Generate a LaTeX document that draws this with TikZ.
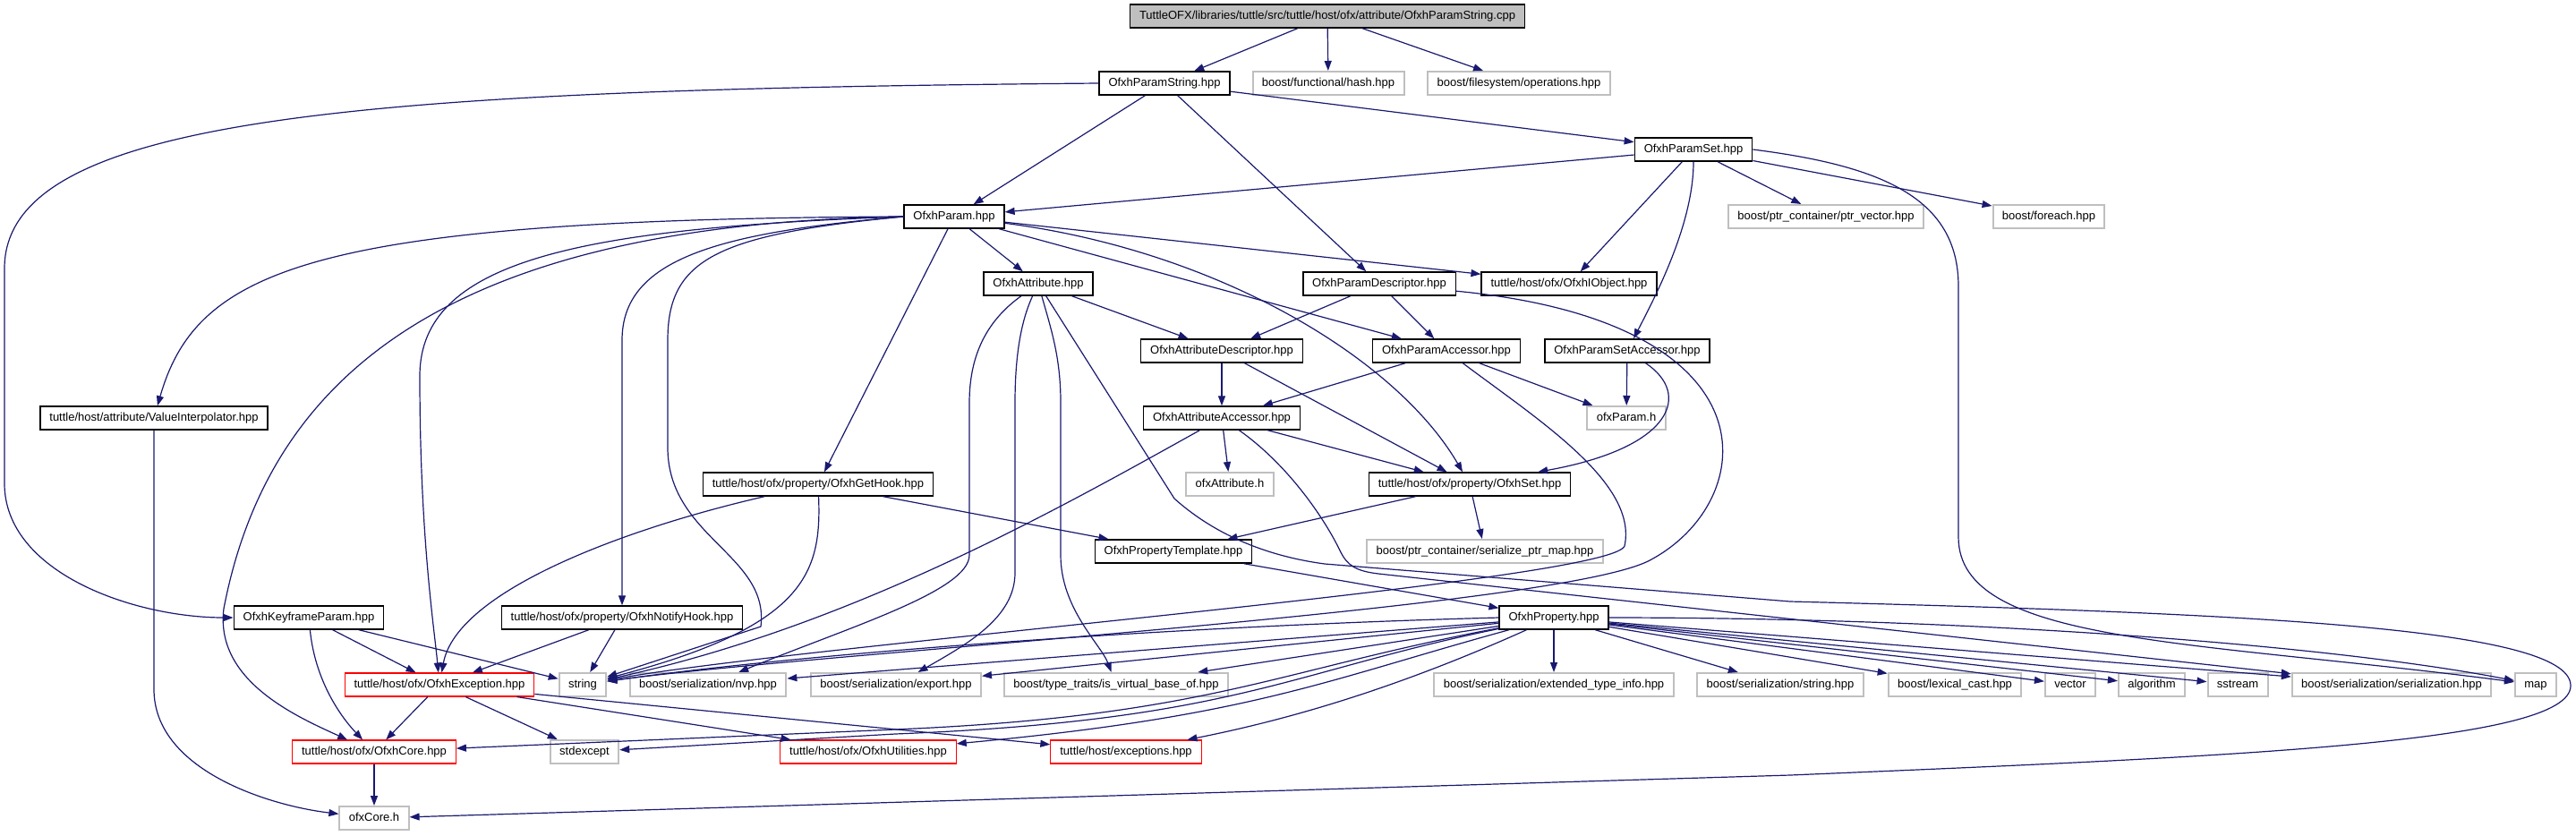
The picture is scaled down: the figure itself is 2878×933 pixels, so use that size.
\documentclass[tikz,border=0pt]{standalone}
\usepackage{fontspec}
\setmainfont{Liberation Sans}
\usetikzlibrary{arrows.meta}
\definecolor{edgeblue}{RGB}{25,25,112}
\definecolor{extgray}{RGB}{191,191,191}
\tikzset{
  header/.style={draw=black, fill=white, line width=0.7pt, inner xsep=5.2pt, inner ysep=0pt,
    minimum height=13pt, text height=4.9pt, text depth=1.5pt, font=\fontsize{6.5pt}{7pt}\selectfont},
  syshdr/.style={header, draw=extgray, line width=1pt},
  truncated/.style={header, draw=red, line width=0.55pt},
  mainfile/.style={header, fill=extgray},
  dep/.style={draw=edgeblue, line width=0.6pt, -{Triangle[length=5.5pt,width=4pt]}}
}
\begin{document}
\begin{tikzpicture}[x=0.5pt,y=-0.5pt]
    \useasboundingbox (0,0) rectangle (2878,933);
    % Files, row by row
    \node[mainfile] (cpp) at (1483,18) {TuttleOFX/libraries/tuttle/src/tuttle/host/ofx/attribute/OfxhParamString.cpp};
    \node[header] (pstr) at (1301,93) {OfxhParamString.hpp};
    \node[syshdr] (hash) at (1484,93) {boost/functional/hash.hpp};
    \node[syshdr] (fsops) at (1697,93) {boost/filesystem/operations.hpp};
    \node[header] (pset) at (1892,167) {OfxhParamSet.hpp};
    \node[header] (param) at (1066,242) {OfxhParam.hpp};
    \node[syshdr] (ptrvec) at (2040,242) {boost/ptr\_container/ptr\_vector.hpp};
    \node[syshdr] (foreach) at (2289,242) {boost/foreach.hpp};
    \node[header] (attr) at (1160,317) {OfxhAttribute.hpp};
    \node[header] (pdesc) at (1541,317) {OfxhParamDescriptor.hpp};
    \node[header] (iobj) at (1753,317) {tuttle/host/ofx/OfxhIObject.hpp};
    \node[header] (adesc) at (1365,392) {OfxhAttributeDescriptor.hpp};
    \node[header] (pacc) at (1616,392) {OfxhParamAccessor.hpp};
    \node[header] (psacc) at (1818,392) {OfxhParamSetAccessor.hpp};
    \node[header] (interp) at (172,467) {tuttle/host/attribute/ValueInterpolator.hpp};
    \node[header] (aacc) at (1365,467) {OfxhAttributeAccessor.hpp};
    \node[syshdr] (ofxparam) at (1817,467) {ofxParam.h};
    \node[header] (gethook) at (914,541) {tuttle/host/ofx/property/OfxhGetHook.hpp};
    \node[syshdr] (ofxattr) at (1374,541) {ofxAttribute.h};
    \node[header] (propset) at (1642,541) {tuttle/host/ofx/property/OfxhSet.hpp};
    \node[header] (ptmpl) at (1311,616) {OfxhPropertyTemplate.hpp};
    \node[syshdr] (ptrmap) at (1659,616) {boost/ptr\_container/serialize\_ptr\_map.hpp};
    \node[header] (kparam) at (345,690) {OfxhKeyframeParam.hpp};
    \node[header] (notify) at (695,690) {tuttle/host/ofx/property/OfxhNotifyHook.hpp};
    \node[header] (prop) at (1736,690) {OfxhProperty.hpp};
    \node[truncated] (except) at (491,765) {tuttle/host/ofx/OfxhException.hpp};
    \node[syshdr] (string) at (651,765) {string};
    \node[syshdr] (nvp) at (791,765) {boost/serialization/nvp.hpp};
    \node[syshdr] (export) at (1001,765) {boost/serialization/export.hpp};
    \node[syshdr] (isvb) at (1247,765) {boost/type\_traits/is\_virtual\_base\_of.hpp};
    \node[syshdr] (exttype) at (1736,765) {boost/serialization/extended\_type\_info.hpp};
    \node[syshdr] (serstr) at (1989,765) {boost/serialization/string.hpp};
    \node[syshdr] (lexcast) at (2184,765) {boost/lexical\_cast.hpp};
    \node[syshdr] (vector) at (2313,765) {vector};
    \node[syshdr] (algorithm) at (2404,765) {algorithm};
    \node[syshdr] (sstream) at (2500,765) {sstream};
    \node[syshdr] (serial) at (2672,765) {boost/serialization/serialization.hpp};
    \node[syshdr] (map) at (2833,765) {map};
    \node[truncated] (core) at (418,840) {tuttle/host/ofx/OfxhCore.hpp};
    \node[syshdr] (stdexcept) at (653,840) {stdexcept};
    \node[truncated] (util) at (970,840) {tuttle/host/ofx/OfxhUtilities.hpp};
    \node[truncated] (exc2) at (1258,840) {tuttle/host/exceptions.hpp};
    \node[syshdr] (ofxcore) at (418,914) {ofxCore.h};
    % Includes of the source file
    \draw[dep] (cpp) -- (pstr);
    \draw[dep] (cpp) -- (hash);
    \draw[dep] (cpp) -- (fsops);
    % OfxhParamString.hpp
    \draw[dep] (pstr.west) .. controls (400,100) and (5,130) .. (5,300) -- (5,540) .. controls (5,640) and (150,690) .. (kparam.west);
    \draw[dep] (pstr) -- (param);
    \draw[dep] (pstr) -- (pdesc);
    \draw[dep] (pstr) -- (pset);
    % OfxhParamSet.hpp
    \draw[dep] (pset) -- (param);
    \draw[dep] (pset) -- (iobj);
    \draw[dep] (pset.south) .. controls (1892,250) and (1850,330) .. (psacc);
    \draw[dep] (pset) -- (ptrvec);
    \draw[dep] (pset) -- (foreach);
    \draw[dep] (pset.east) .. controls (2100,185) and (2188,220) .. (2188,320) -- (2188,600) .. controls (2188,720) and (2450,715) .. (map);
    % OfxhParam.hpp
    \draw[dep] (param) -- (attr);
    \draw[dep] (param) -- (iobj);
    \draw[dep] (param) -- (pacc);
    \draw[dep] (param) .. controls (1360,280) and (1560,400) .. (propset);
    \draw[dep] (param) -- (gethook);
    \draw[dep] (param.west) .. controls (350,245) and (220,300) .. (interp);
    \draw[dep] (param.west) .. controls (800,260) and (695,290) .. (695,380) -- (notify);
    \draw[dep] (param.west) .. controls (650,255) and (469,290) .. (469,420) .. controls (469,600) and (485,700) .. (except);
    \draw[dep] (param.west) .. controls (500,250) and (300,420) .. (250,680) .. controls (240,760) and (330,800) .. (core);
    \draw[dep] (param.west) .. controls (800,262) and (746,290) .. (746,380) -- (746,500) .. controls (746,600) and (860,620) .. (850,700) -- (string);
    % OfxhAttribute.hpp
    \draw[dep] (attr) -- (adesc);
    \draw[dep] (attr) .. controls (1100,360) and (1083,400) .. (1083,450) -- (1083,620) .. controls (1083,660) and (950,700) .. (nvp);
    \draw[dep] (attr) .. controls (1140,360) and (1134,400) .. (1134,450) -- (1134,640) .. controls (1134,690) and (1080,720) .. (export);
    \draw[dep] (attr) .. controls (1175,370) and (1185,400) .. (1185,450) -- (1185,620) .. controls (1185,680) and (1230,720) .. (isvb);
    \draw[dep] (attr) -- (1312,557) .. controls (1360,600) and (1420,622) .. (1480,630) -- (2000,672) .. controls (2500,685) and (2872,700) .. (2872,766) .. controls (2872,830) and (2500,845) .. (2000,866) -- (ofxcore);
    % Descriptors and accessors
    \draw[dep] (pdesc) -- (adesc);
    \draw[dep] (pdesc) -- (pacc);
    \draw[dep] (pdesc) .. controls (1990,360) and (1965,560) .. (1845,625) .. controls (1750,680) and (900,730) .. (string);
    \draw[dep] (adesc) -- (aacc);
    \draw[dep] (adesc) -- (propset);
    \draw[dep] (pacc) -- (aacc);
    \draw[dep] (pacc) -- (ofxparam);
    \draw[dep] (pacc) .. controls (1720,470) and (1830,540) .. (1815,610) .. controls (1800,650) and (900,720) .. (string);
    \draw[dep] (psacc) -- (ofxparam);
    \draw[dep] (psacc) .. controls (1890,440) and (1870,500) .. (propset);
    \draw[dep] (aacc) -- (ofxattr);
    \draw[dep] (aacc) -- (propset);
    \draw[dep] (aacc) .. controls (1180,570) and (950,700) .. (string);
    \draw[dep] (aacc) .. controls (1440,520) and (1480,580) .. (1497,615) .. controls (1505,632) and (1515,638) .. (1540,641) -- (serial);
    % Property set and hooks
    \draw[dep] (propset) -- (ptmpl);
    \draw[dep] (propset) -- (ptrmap);
    \draw[dep] (gethook) -- (ptmpl);
    \draw[dep] (gethook) .. controls (700,590) and (510,660) .. (except);
    \draw[dep] (gethook) .. controls (918,640) and (900,700) .. (string);
    \draw[dep] (ptmpl) -- (prop);
    \draw[dep] (notify) -- (except);
    \draw[dep] (notify) -- (string);
    \draw[dep] (kparam) -- (except);
    \draw[dep] (kparam) -- (string);
    \draw[dep] (kparam) .. controls (352,760) and (380,800) .. (core);
    \draw[dep] (interp) -- (172,770) .. controls (172,860) and (300,900) .. (ofxcore);
    % OfxhException.hpp and OfxhCore.hpp
    \draw[dep] (except) -- (core);
    \draw[dep] (except) -- (stdexcept);
    \draw[dep] (except) -- (util);
    \draw[dep] (except) -- (exc2);
    \draw[dep] (core) -- (ofxcore);
    % OfxhProperty.hpp
    \draw[dep] (prop.west) .. controls (1300,700) and (900,730) .. (string);
    \draw[dep] (prop) -- (nvp);
    \draw[dep] (prop) -- (export);
    \draw[dep] (prop) -- (isvb);
    \draw[dep] (prop) .. controls (1420,750) and (1350,800) .. (1000,815) -- (core);
    \draw[dep] (prop) .. controls (1440,750) and (1380,805) .. (1000,820) -- (stdexcept);
    \draw[dep] (prop) .. controls (1480,760) and (1400,800) .. (util);
    \draw[dep] (prop) .. controls (1580,760) and (1460,800) .. (exc2);
    \foreach \t in {exttype,serstr,lexcast,vector,algorithm,sstream,serial}
        \draw[dep] (prop) -- (\t);
    \draw[dep] (prop) .. controls (2200,690) and (2600,720) .. (map);
\end{tikzpicture}
\end{document}
